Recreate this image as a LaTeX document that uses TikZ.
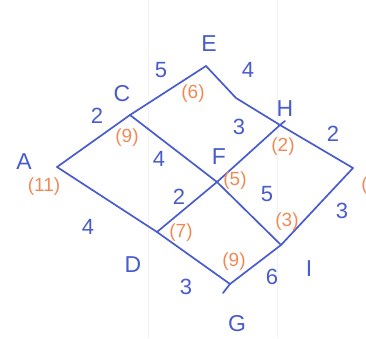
\documentclass[tikz,border=0pt]{standalone}
\usepackage{fontspec}
\setmainfont{Liberation Sans}
\definecolor{ink}{RGB}{72,92,205}
\definecolor{dist}{RGB}{240,138,85}
\begin{document}
\begin{tikzpicture}[x=1pt,y=-1pt,
  edge/.style={draw=ink,line width=1.7pt,line cap=round,line join=round},
  vlabel/.style={text=ink,font=\fontsize{23}{23}\selectfont,inner sep=0pt},
  wlabel/.style={text=ink,font=\fontsize{22}{22}\selectfont,inner sep=0pt},
  dlabel/.style={text=dist,font=\fontsize{19}{19}\selectfont,inner sep=0pt},
  fold/.style={draw=black!5,line width=0.8pt}]
\useasboundingbox (0,0) rectangle (366,338);
% faint paper folds
\draw[fold] (148,0) -- (148,338);
\draw[fold] (277,0) -- (277,338);
% vertices
\coordinate (A) at (57,167);
\coordinate (C) at (130,115);
\coordinate (E) at (206,66);
\coordinate (K) at (236,98);
\coordinate (H) at (280,125);
\coordinate (Hx) at (285,121);
\coordinate (J) at (353,168);
\coordinate (F) at (217,182);
\coordinate (I) at (281,245);
\coordinate (D) at (157,232);
\coordinate (G) at (230,284);
\coordinate (Gx) at (223,293);
% edges
\draw[edge] (A) -- (C) -- (E);
\draw[edge] (E) -- (K) -- (H) -- (J);
\draw[edge] (J) -- (I) -- (G) -- (Gx);
\draw[edge] (A) -- (D) -- (G);
\draw[edge] (C) -- (F) -- (I);
\draw[edge] (D) -- (F) -- (H) -- (Hx);
% vertex names
\node[vlabel] (lA) at (24,162) {A};
\node[vlabel] (lC) at (122,94) {C};
\node[vlabel] (lE) at (209,44) {E};
\node[vlabel] (lH) at (285,109) {H};
\node[vlabel] (lF) at (219,157) {F};
\node[vlabel] (lI) at (309,269) {I};
\node[vlabel] (lD) at (133,265) {D};
\node[vlabel] (lG) at (237,324) {G};
% weights
\node[wlabel] (wAC) at (97,116) {2};
\node[wlabel] (wCE) at (161,70) {5};
\node[wlabel] (wCF) at (159,159) {4};
\node[wlabel] (wEH) at (248,70) {4};
\node[wlabel] (wFH) at (239,127) {3};
\node[wlabel] (wHJ) at (333,134) {2};
\node[wlabel] (wDF) at (179,197) {2};
\node[wlabel] (wFI) at (267,194) {5};
\node[wlabel] (wIJ) at (342,211) {3};
\node[wlabel] (wIG) at (272,277) {6};
\node[wlabel] (wDG) at (186,287) {3};
\node[wlabel] (wAD) at (88,227) {4};
% distances
\node[dlabel] (dA) at (44,187) {(11)};
\node[dlabel] (dC) at (127,138) {(9)};
\node[dlabel] (dE) at (193,94) {(6)};
\node[dlabel] (dH) at (283,147) {(2)};
\node[dlabel] (dF) at (235,181) {(5)};
\node[dlabel] (dD) at (181,233) {(7)};
\node[dlabel] (dI) at (287,222) {(3)};
\node[dlabel] (dG) at (234,262) {(9)};
\node[dlabel] (dJ) at (373,186) {(0)};
\end{tikzpicture}
\end{document}
